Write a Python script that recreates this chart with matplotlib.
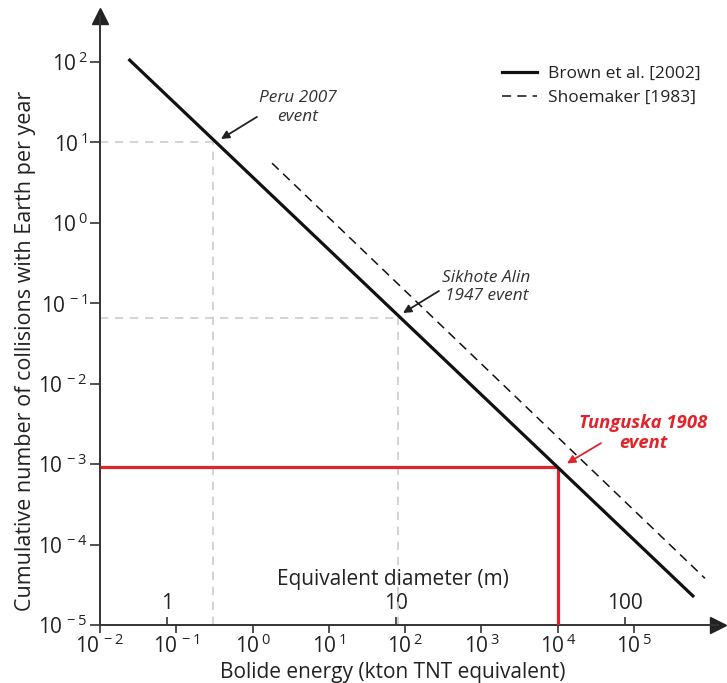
import numpy as np
import matplotlib
matplotlib.use('Agg')
import matplotlib.pyplot as plt
from matplotlib.ticker import FixedLocator, NullLocator

# font giong Myriad
plt.rcParams['font.family'] = ['Open Sans', 'DejaVu Sans']
plt.rcParams['mathtext.fontset'] = 'custom'
plt.rcParams['mathtext.rm'] = 'Open Sans'
plt.rcParams['mathtext.it'] = 'Open Sans:italic'
plt.rcParams['mathtext.default'] = 'regular'

# du lieu doc tu hinh
x_exp = [-2, -1, 0, 1, 2, 3, 4, 5]
y_exp = [2, 1, 0, -1, -2, -3, -4, -5]
x_labels = [r'10$^{\,%d}$' % e for e in x_exp]
y_labels = [r'10$^{\,%d}$' % e for e in y_exp]

diam_ticks = [1, 10, 100]          # duong kinh (m)
diam_labels = ['1', '10', '100']
diam_e1 = 0.076                    # nang luong (kton) ung voi d = 1 m

brown_e = [0.0245, 5.9e5]
brown_n = [105, 2.3e-5]
shoe_e = [1.8, 8.5e5]
shoe_n = [5.5, 3.8e-5]

ev_names = ['Peru 2007\nevent', 'Sikhote Alin\n1947 event', 'Tunguska 1908\nevent']
ev_e = [0.3, 80, 1e4]
ev_n = [10, 0.065, 9.2e-4]
ev_text_e = [3.9, 1170, 1.31e5]
ev_text_n = [27, 0.158, 2.43e-3]
arrow_tip = [(0.385, 11), (93.6, 0.0755), (1.32e4, 1.02e-3)]
arrow_tail = [(1.14, 20.7), (277, 0.142), (3.68e4, 1.82e-3)]

red = '#e1232c'
grey = '#cccccc'
ink = '#222222'

fig = plt.figure(figsize=(7.27, 6.83), dpi=100)
ax = fig.add_axes([0.13755, 0.08492, 0.85007, 0.89165])
ax.set_xscale('log')
ax.set_yscale('log')
ax.set_xlim(1e-2, 10**6.10)
ax.set_ylim(1e-5, 10**2.57)

# duong huong dan (xam) va Tunguska (do)
x0 = ax.get_xlim()[0]
y0 = ax.get_ylim()[0]
for i in range(2):
    ax.plot([x0, ev_e[i]], [ev_n[i], ev_n[i]], color=grey, lw=1.2, dashes=(5, 4))
    ax.plot([ev_e[i], ev_e[i]], [y0, ev_n[i]], color=grey, lw=1.2, dashes=(5, 4))
ax.plot([x0, ev_e[2]], [ev_n[2], ev_n[2]], color=red, lw=2.3, solid_capstyle='butt', zorder=4)
ax.plot([ev_e[2], ev_e[2]], [y0, ev_n[2]], color=red, lw=2.3, solid_capstyle='butt', zorder=4)

# hai duong chinh
ax.plot(brown_e, brown_n, color='#111111', lw=2.3, label='Brown et al. [2002]', zorder=5)
ax.plot(shoe_e, shoe_n, color='#111111', lw=1.1, dashes=(6, 4), label='Shoemaker [1983]', zorder=5)

# chu thich su kien
for i in range(3):
    c = red if i == 2 else '#333333'
    w = 'bold' if i == 2 else 'normal'
    fs = 13.3 if i == 2 else 12.4
    ax.text(ev_text_e[i], ev_text_n[i], ev_names[i], color=c, fontweight=w, fontstyle='italic',
            fontsize=fs, ha='center', va='center', linespacing=1.2)
    ax.annotate('', xy=arrow_tip[i], xytext=arrow_tail[i],
                arrowprops=dict(arrowstyle='-|>', color=ink if i < 2 else red, lw=1.3,
                                mutation_scale=12, shrinkA=0, shrinkB=0))

# truc co mui ten
for s in ['top', 'right']:
    ax.spines[s].set_visible(False)
for s in ['left', 'bottom']:
    ax.spines[s].set_color('#333333')
    ax.spines[s].set_linewidth(1.4)
ax.plot(1, 0, '>', transform=ax.transAxes, clip_on=False, color=ink, ms=12)
ax.plot(0, 1, '^', transform=ax.transAxes, clip_on=False, color=ink, ms=12)

ax.xaxis.set_major_locator(FixedLocator(10.0 ** np.array(x_exp)))
ax.yaxis.set_major_locator(FixedLocator(10.0 ** np.array(y_exp)))
ax.set_xticklabels(x_labels)
ax.set_yticklabels(y_labels)
ax.xaxis.set_minor_locator(NullLocator())
ax.yaxis.set_minor_locator(NullLocator())
ax.tick_params(axis='x', direction='out', length=6, width=1.2, color='#333333',
               labelsize=15, pad=1, labelcolor=ink)
ax.tick_params(axis='y', direction='out', length=7, width=1.2, color='#333333',
               labelsize=15, pad=2, labelcolor=ink)

# truc duong kinh tuong duong
secax = ax.secondary_xaxis(0, functions=(lambda e: np.cbrt(e / diam_e1),
                                         lambda d: diam_e1 * np.asarray(d) ** 3))
secax.set_alignment('top')
secax.spines['top'].set_visible(False)
secax.spines['bottom'].set_visible(False)
secax.xaxis.set_major_locator(FixedLocator(diam_ticks))
secax.xaxis.set_minor_locator(NullLocator())
secax.set_xticklabels(diam_labels)
secax.tick_params(axis='x', direction='out', length=6, width=1.2, color='#333333',
                  labelsize=15, pad=2, labelcolor=ink)
ax.text(0.474, 0.074, 'Equivalent diameter (m)', transform=ax.transAxes,
        ha='center', va='center', fontsize=15, color=ink)

ax.set_xlabel('Bolide energy (kton TNT equivalent)', fontsize=15, color=ink)
ax.xaxis.set_label_coords(0.474, -0.061)
ax.set_ylabel('Cumulative number of collisions with Earth per year', fontsize=15.5, color=ink)
ax.yaxis.set_label_coords(-0.104, 0.45)

fig.legend(loc='upper left', bbox_to_anchor=(0.6905, 0.904), frameon=False, fontsize=12.5,
           handlelength=2.0, handletextpad=0.63, labelspacing=0.45, borderpad=0,
           borderaxespad=0, labelcolor=ink)

fig.savefig('out.png', dpi=100)
